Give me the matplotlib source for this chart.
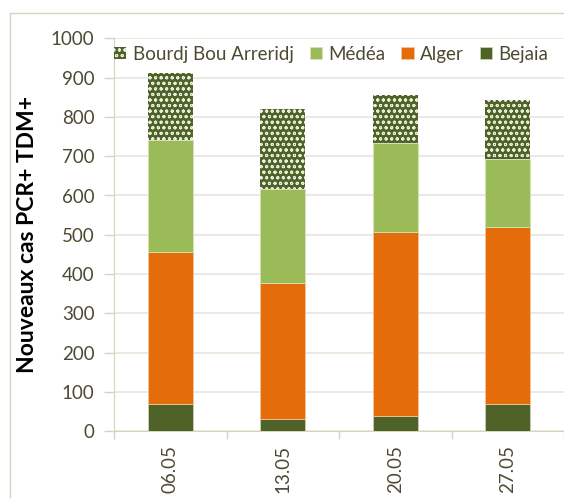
import matplotlib as mpl
import matplotlib.pyplot as plt
import numpy as np
from matplotlib.patches import Rectangle

mpl.use("Agg")

dates = ["06.05", "13.05", "20.05", "27.05"]
bejaia = [69, 31, 40, 70]
alger = [386, 347, 468, 451]
medea = [287, 239, 225, 172]
bba = [169, 203, 123, 150]

txt = "#4d4a33"
grid_c = "#e9e6da"
spine_c = "#d8d3bd"

plt.rcParams["font.family"] = ["Lato", "DejaVu Sans"]
plt.rcParams["hatch.linewidth"] = 0.7

fig = plt.figure(figsize=(5.64, 4.98), dpi=100)
ax = fig.add_axes([114 / 564, 1 - 431.3 / 498, 450 / 564, 393 / 498])

# cadre du graphique
fig.patches.append(Rectangle((10 / 564, -0.1), 1.2, 1 - 13 / 498 + 0.1,
                             transform=fig.transFigure, fill=False,
                             edgecolor=spine_c, linewidth=1))

x = np.arange(len(dates))
w = 0.4
b1 = np.array(bejaia)
b2 = b1 + np.array(alger)
b3 = b2 + np.array(medea)

ax.bar(x, bejaia, w, color="#4f6228", edgecolor="#c9d3b0", linewidth=0.6, label="Bejaia", zorder=3)
ax.bar(x, alger, w, bottom=b1, color="#e46c0a", edgecolor="#f3c49c", linewidth=0.6, label="Alger", zorder=3)
ax.bar(x, medea, w, bottom=b2, color="#9bbb59", edgecolor="#d5e3b8", linewidth=0.6, label="Médéa", zorder=3)
ax.bar(x, bba, w, bottom=b3, color="#4f6228", edgecolor="#e8eedc", hatch="ooo",
       linewidth=0, label="Bourdj Bou Arreridj", zorder=3)

ax.set_xlim(-0.5, 3.5)
ax.set_ylim(0, 1000)
ax.set_yticks(range(0, 1001, 100))
ax.set_xticks(x)
ax.set_xticklabels(dates, rotation=90)
ax.set_xticks(np.arange(-0.5, 3.6, 1), minor=True)
ax.tick_params(axis="x", which="major", length=0, pad=10, labelsize=13.5, labelcolor=txt)
ax.tick_params(axis="x", which="minor", length=6, color=spine_c, width=1)
ax.tick_params(axis="y", length=7, color=spine_c, width=1, labelsize=13.5, labelcolor=txt, pad=7)
ax.grid(axis="y", color=grid_c, linewidth=1.2, zorder=0)
for s in ["top", "right"]:
    ax.spines[s].set_visible(False)
ax.spines["left"].set_color(spine_c)
ax.spines["bottom"].set_color(spine_c)
ax.set_axisbelow(True)

ax.set_ylabel("Nouveaux cas PCR+ TDM+", fontsize=16.5, fontweight="bold", color="black", labelpad=9)

h, l = ax.get_legend_handles_labels()
leg = ax.legend(h[::-1], l[::-1], ncol=4, loc="upper left", bbox_to_anchor=(-0.025, 1.01),
                frameon=False, fontsize=13.5, handlelength=0.65, handleheight=0.65,
                handletextpad=0.35, columnspacing=0.85, labelcolor=txt, borderaxespad=0.2)

fig.savefig("out.png", dpi=100)
